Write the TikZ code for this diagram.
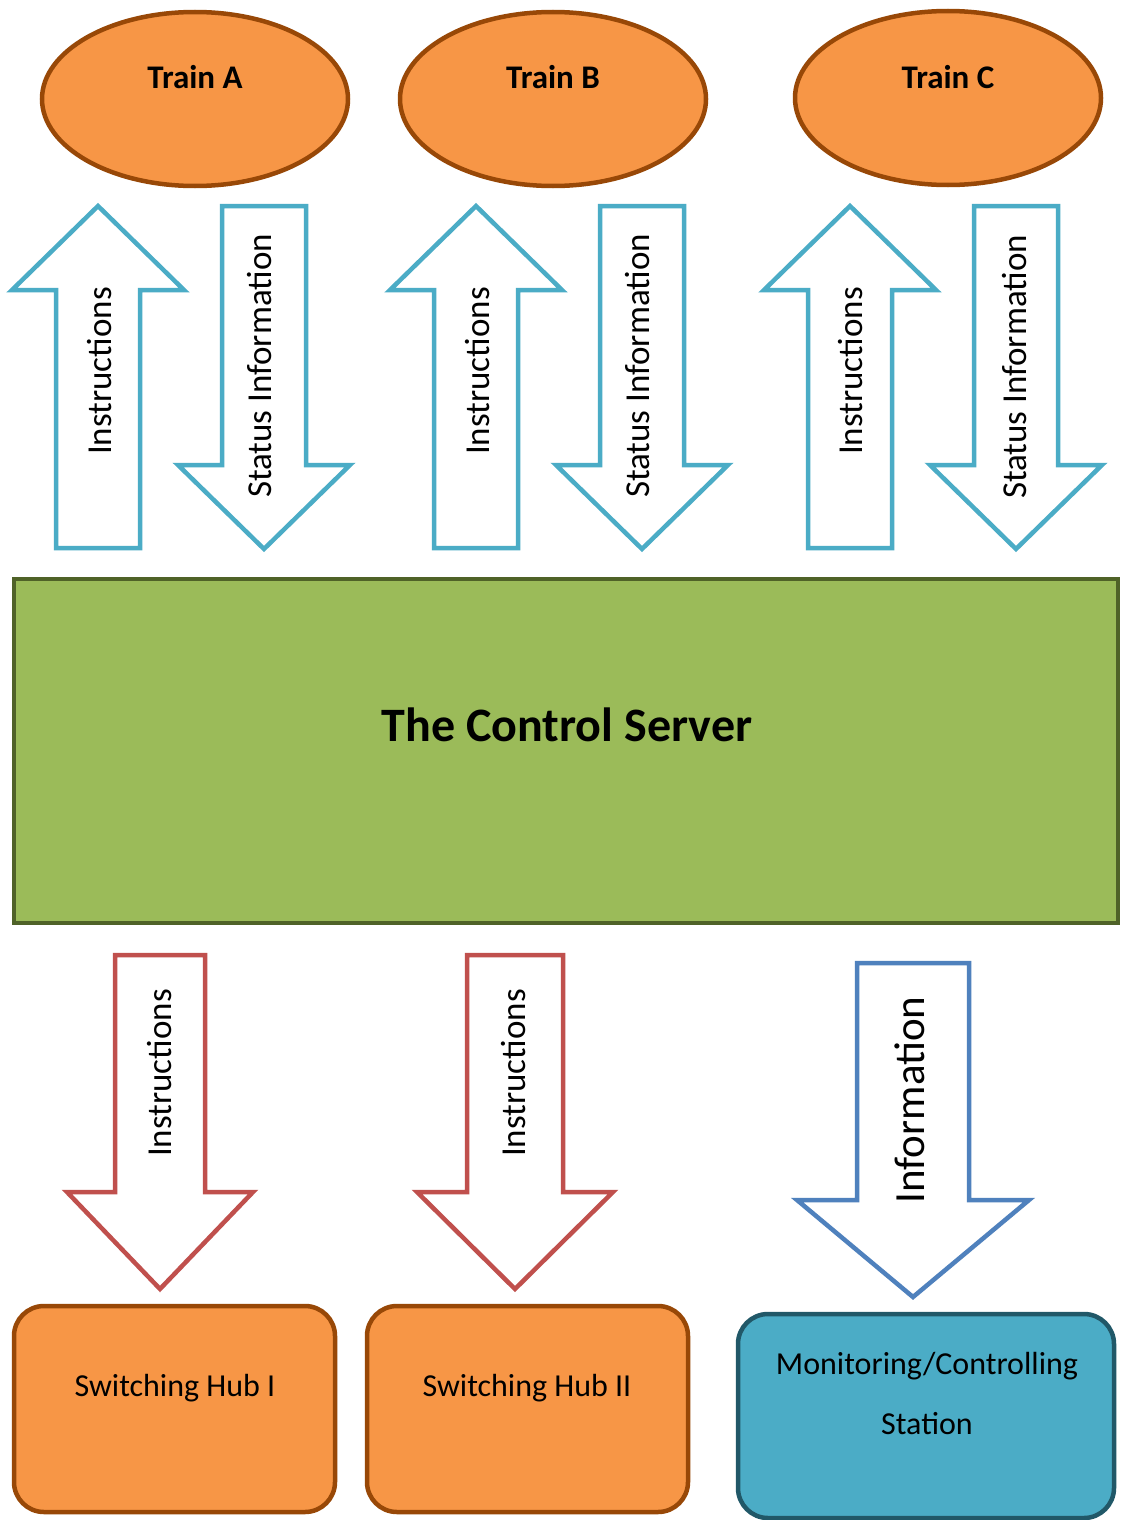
\documentclass[tikz,border=0pt]{standalone}
\usepackage{fontspec}
\setmainfont{Carlito}
\usetikzlibrary{shapes.geometric}
\definecolor{trainfill}{HTML}{F79646}
\definecolor{trainline}{HTML}{984807}
\definecolor{cyanline}{HTML}{4BACC6}
\definecolor{serverfill}{HTML}{9BBB59}
\definecolor{serverline}{HTML}{4F6228}
\definecolor{redline}{HTML}{C0504D}
\definecolor{blueline}{HTML}{4F81BD}
\definecolor{stationfill}{HTML}{4BACC6}
\definecolor{stationline}{HTML}{215868}
\newcommand\blockup[7]{%
  \draw[#1] ({#2-#3},#7) -- ({#2-#3},#6) -- ({#2-#4},#6) -- (#2,#5) -- ({#2+#4},#6) -- ({#2+#3},#6) -- ({#2+#3},#7) -- cycle;}
\newcommand\blockdown[7]{%
  \draw[#1] ({#2-#3},#5) -- ({#2+#3},#5) -- ({#2+#3},#6) -- ({#2+#4},#6) -- (#2,#7) -- ({#2-#4},#6) -- ({#2-#3},#6) -- cycle;}
\begin{document}
\begin{tikzpicture}[x=1pt,y=-1pt,
  train/.style={ellipse, draw=trainline, fill=trainfill, line width=4.5pt, minimum width=306pt, minimum height=174pt, inner sep=0pt},
  hub/.style={rectangle, rounded corners=30pt, draw=trainline, fill=trainfill, line width=4.5pt, minimum width=321pt, minimum height=206pt, inner sep=0pt},
  station/.style={rectangle, rounded corners=30pt, draw=stationline, fill=stationfill, line width=4.5pt, minimum width=376pt, minimum height=204pt, inner sep=0pt},
  server/.style={rectangle, draw=serverline, fill=serverfill, line width=4.5pt, minimum width=1104pt, minimum height=344pt, inner sep=0pt},
  cyanarrow/.style={draw=cyanline, fill=white, line width=4.5pt, line join=miter},
  redarrow/.style={draw=redline, fill=white, line width=4.5pt, line join=miter},
  bluearrow/.style={draw=blueline, fill=white, line width=4.5pt, line join=miter},
  bold label/.style={font=\fontsize{33}{39}\selectfont\bfseries, inner sep=0pt},
  plain label/.style={font=\fontsize{32}{38}\selectfont, inner sep=0pt},
  side label/.style={font=\fontsize{35}{42}\selectfont, inner sep=0pt, rotate=90},
]
\useasboundingbox (0,0) rectangle (1120,1520);
\fill[white] (0,0) rectangle (1120,1520);

% trains
\node[train] (trainA) at (195,99) {};
\node[train] (trainB) at (553,99) {};
\node[train] (trainC) at (948,98) {};
\node[bold label] (tA) at (195,77) {Train A};
\node[bold label] (tB) at (553,77) {Train B};
\node[bold label] (tC) at (948,77) {Train C};

% upper arrows
\blockup{cyanarrow}{98}{42}{86}{206}{290}{548}
\blockdown{cyanarrow}{264}{42}{86}{206}{465}{549}
\blockup{cyanarrow}{476}{42}{86}{206}{290}{548}
\blockdown{cyanarrow}{642}{42}{86}{206}{465}{549}
\blockup{cyanarrow}{850}{42}{86}{206}{290}{548}
\blockdown{cyanarrow}{1016}{42}{86}{206}{465}{549}
\node[side label] (iA) at (100,371) {Instructions};
\node[side label] (sA) at (260,366) {Status Information};
\node[side label] (iB) at (478,371) {Instructions};
\node[side label] (sB) at (638,366) {Status Information};
\node[side label] (iC) at (851,371) {Instructions};
\node[side label] (sC) at (1015,367) {Status Information};

% server
\node[server] (server) at (566,751) {};
\node[font=\fontsize{48}{56}\selectfont\bfseries, inner sep=0pt] (serverlabel) at (567,725) {The Control Server};

% lower arrows
\blockdown{redarrow}{160}{45}{93}{955}{1192}{1289}
\blockdown{redarrow}{515}{48}{98}{955}{1192}{1289}
\blockdown{bluearrow}{913}{56}{116}{963}{1200}{1297}
\node[side label] (i1) at (160,1073) {Instructions};
\node[side label] (i2) at (514,1073) {Instructions};
\node[side label, font=\fontsize{43}{51}\selectfont] (info) at (910,1100) {Information};

% bottom boxes
\node[hub] (hub1) at (174.5,1409) {};
\node[hub] (hub2) at (527.5,1409) {};
\node[station] (station) at (926,1416) {};
\node[plain label] (h1) at (175,1388) {Switching Hub I};
\node[plain label] (h2) at (527,1388) {Switching Hub II};
\node[plain label] (m1) at (927,1366) {Monitoring/Controlling};
\node[plain label] (m2) at (927,1424) {Station};
\end{tikzpicture}
\end{document}
